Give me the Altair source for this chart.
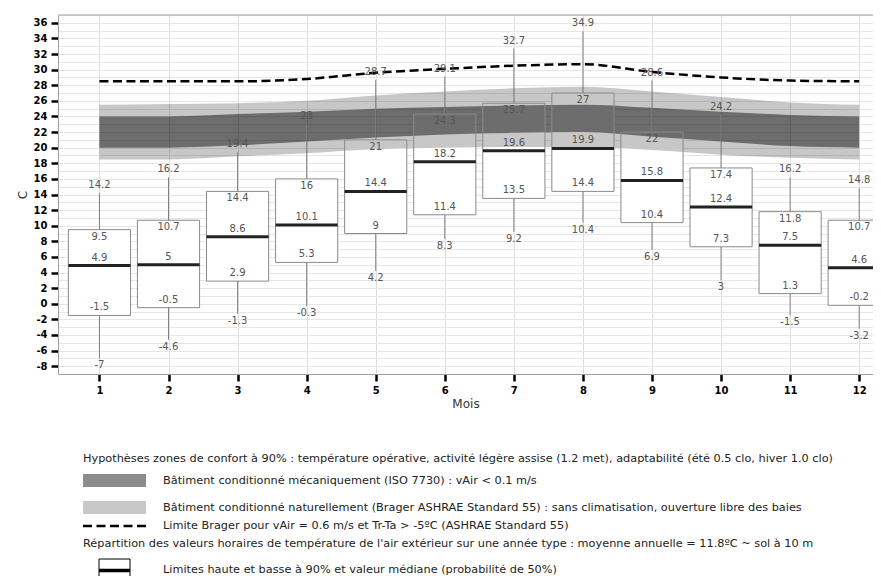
import altair as alt
import pandas as pd

# ---- data ----
months = list(range(1, 13))
whisker_hi = [14.2, 16.2, 19.4, 23, 28.7, 29.1, 32.7, 34.9, 28.6, 24.2, 16.2, 14.8]
box_hi = [9.5, 10.7, 14.4, 16, 21, 24.3, 25.7, 27, 22, 17.4, 11.8, 10.7]
median = [4.9, 5, 8.6, 10.1, 14.4, 18.2, 19.6, 19.9, 15.8, 12.4, 7.5, 4.6]
box_lo = [-1.5, -0.5, 2.9, 5.3, 9, 11.4, 13.5, 14.4, 10.4, 7.3, 1.3, -0.2]
whisker_lo = [-7, -4.6, -1.3, -0.3, 4.2, 8.3, 9.2, 10.4, 6.9, 3, -1.5, -3.2]

light_lo = [18.5, 18.5, 18.9, 19.3, 19.8, 20.0, 20.1, 20.1, 19.7, 19.1, 18.7, 18.5]
dark_lo = [20.0, 20.0, 20.3, 20.8, 21.3, 21.7, 21.9, 22.0, 21.4, 20.8, 20.2, 20.0]
dark_hi = [24.0, 24.0, 24.3, 24.6, 25.0, 25.2, 25.4, 25.5, 25.1, 24.6, 24.2, 24.0]
light_hi = [25.5, 25.6, 25.7, 26.0, 26.7, 27.2, 27.6, 27.8, 27.2, 26.5, 25.8, 25.5]
brager_limit = [28.5, 28.5, 28.5, 28.8, 29.6, 30.1, 30.5, 30.7, 29.7, 29.0, 28.6, 28.5]

y_ticks = list(range(-9, 38))

legend_title = "Hypothèses zones de confort à 90% : température opérative, activité légère assise (1.2 met), adaptabilité (été 0.5 clo, hiver 1.0 clo)"
legend_dark = "Bâtiment conditionné mécaniquement (ISO 7730) : vAir < 0.1 m/s"
legend_light = "Bâtiment conditionné naturellement (Brager ASHRAE Standard 55) : sans climatisation, ouverture libre des baies"
legend_dash = "Limite Brager pour vAir = 0.6 m/s et Tr-Ta > -5ºC (ASHRAE Standard 55)"
legend_repart = "Répartition des valeurs horaires de température de l'air extérieur sur une année type : moyenne annuelle = 11.8ºC ~ sol à 10 m"
legend_box = "Limites haute et basse à 90% et valeur médiane (probabilité de 50%)"

def fmt(v):
    return f"{v:g}"

df = pd.DataFrame({
    "month": months,
    "whisker_hi": whisker_hi,
    "box_hi": box_hi,
    "median": median,
    "box_lo": box_lo,
    "whisker_lo": whisker_lo,
    "light_lo": light_lo,
    "dark_lo": dark_lo,
    "dark_hi": dark_hi,
    "light_hi": light_hi,
    "brager": brager_limit,
})
for c in ["whisker_hi", "box_hi", "median", "box_lo", "whisker_lo"]:
    df["t_" + c] = [fmt(v) for v in df[c]]

FONT = "DejaVu Sans"
W, H = 815, 359
xscale = alt.Scale(domain=[0.4, 12.2], nice=False, zero=False)
yscale = alt.Scale(domain=[-9, 37], nice=False, zero=False)
xaxis = alt.Axis(values=months, title="Mois", grid=True, gridColor="#dddddd",
                 labelExpr="'' + datum.value")
yaxis = alt.Axis(values=y_ticks, title="C", grid=True, gridColor="#e6e6e6",
                 labelExpr="datum.value % 2 === 0 ? '' + datum.value : ''",
                 tickColor=alt.condition("datum.value % 2 === 0", alt.value("black"), alt.value("transparent")))

def X(f):
    return alt.X(f, type="quantitative", scale=xscale, axis=xaxis)

def Y(f):
    return alt.Y(f, type="quantitative", scale=yscale, axis=yaxis)

base = alt.Chart(df).transform_calculate(bx1="datum.month - 0.45", bx2="datum.month + 0.45")

box_fill = base.mark_rect(fill="white", strokeWidth=0, clip=True).encode(
    x=X("bx1"), x2="bx2:Q", y=Y("box_lo"), y2="box_hi:Q")

band_light = base.mark_area(color="black", opacity=0.22, interpolate="monotone").encode(
    x=X("month"), y=Y("light_lo"), y2="light_hi:Q")
band_dark = base.mark_area(color="black", opacity=0.45, interpolate="monotone").encode(
    x=X("month"), y=Y("dark_lo"), y2="dark_hi:Q")

box_stroke = base.mark_rect(fill=None, fillOpacity=0, stroke="#8a8a8a", strokeWidth=1, clip=True).encode(
    x=X("bx1"), x2="bx2:Q", y=Y("box_lo"), y2="box_hi:Q")
whisk_top = base.mark_rule(color="#808080", strokeWidth=1).encode(
    x=X("month"), y=Y("box_hi"), y2="whisker_hi:Q")
whisk_bot = base.mark_rule(color="#808080", strokeWidth=1).encode(
    x=X("month"), y=Y("whisker_lo"), y2="box_lo:Q")
med = base.mark_rule(color="#222222", strokeWidth=3, clip=True).encode(
    x=X("bx1"), x2="bx2:Q", y=Y("median"))

dash = base.mark_line(color="black", strokeWidth=2.5, strokeDash=[9, 4.5], interpolate="monotone").encode(
    x=X("month"), y=Y("brager"))

def lab(field, baseline, dy):
    return base.mark_text(font=FONT, fontSize=10, color="#555555", baseline=baseline, dy=dy).encode(
        x=X("month"), y=Y(field), text="t_" + field + ":N")

labels = [
    lab("whisker_hi", "bottom", -3),
    lab("box_hi", "top", 2),
    lab("median", "bottom", -3),
    lab("box_lo", "bottom", -3),
    lab("whisker_lo", "top", 2),
]

# ---- legend (pixel placed, below the plot) ----
def one(text):
    return alt.Chart(pd.DataFrame({"label": [text]}))

top_border = one("frame").mark_rule(color="#a0a0a0", strokeWidth=1).encode(
    x=alt.value(0), x2=alt.value(W), y=alt.value(0))

LX = 25
TX = 105
DY = 3
leg_txt_style = dict(font=FONT, fontSize=11.3, color="#222222", align="left", baseline="middle")
leg = [
    one(legend_title).mark_text(**leg_txt_style).encode(text="label:N", x=alt.value(LX), y=alt.value(441 + DY)),
    one(legend_dark).mark_rect(fill="#8c8c8c").encode(x=alt.value(LX), x2=alt.value(LX + 63), y=alt.value(456 + DY), y2=alt.value(469 + DY)),
    one(legend_dark).mark_text(**leg_txt_style).encode(text="label:N", x=alt.value(TX), y=alt.value(463 + DY)),
    one(legend_light).mark_rect(fill="#c8c8c8").encode(x=alt.value(LX), x2=alt.value(LX + 63), y=alt.value(483 + DY), y2=alt.value(496 + DY)),
    one(legend_light).mark_text(**leg_txt_style).encode(text="label:N", x=alt.value(TX), y=alt.value(489.5 + DY)),
    one(legend_dash).mark_rule(color="black", strokeWidth=2.5, strokeDash=[9, 4.5]).encode(x=alt.value(LX), x2=alt.value(LX + 63), y=alt.value(508 + DY)),
    one(legend_dash).mark_text(**leg_txt_style).encode(text="label:N", x=alt.value(TX), y=alt.value(508 + DY)),
    one(legend_repart).mark_text(**leg_txt_style).encode(text="label:N", x=alt.value(LX), y=alt.value(526 + DY)),
    one(legend_box).mark_rect(fill="white", stroke="black", strokeWidth=1).encode(x=alt.value(LX + 16), x2=alt.value(LX + 47), y=alt.value(541 + DY), y2=alt.value(570 + DY)),
    one(legend_box).mark_rule(color="black", strokeWidth=3.5).encode(x=alt.value(LX + 16), x2=alt.value(LX + 47), y=alt.value(552.5 + DY)),
    one(legend_box).mark_text(**leg_txt_style).encode(text="label:N", x=alt.value(TX), y=alt.value(552 + DY)),
]

chart = alt.layer(
    box_fill, band_light, band_dark, box_stroke, whisk_top, whisk_bot, med, dash, *labels, top_border, *leg
).properties(
    width=W, height=H,
    autosize=alt.AutoSizeParams(type="none"),
    padding={"left": 50, "top": 7, "right": 0, "bottom": 202},
    background="white",
).configure_view(
    strokeWidth=0
).configure_axis(
    labelFont=FONT, labelFontSize=10, labelFontWeight="bold", labelColor="black",
    tickColor="black", tickWidth=2.5, tickSize=7, labelPadding=4,
    domainColor="#a0a0a0", domainWidth=1,
    titleFont=FONT, titleFontSize=12, titleFontWeight="normal", titleColor="#333333",
).configure_axisY(titlePadding=4).configure_axisX(titlePadding=3)

chart.save("out.html", embed_options={"renderer": "svg", "actions": False})
